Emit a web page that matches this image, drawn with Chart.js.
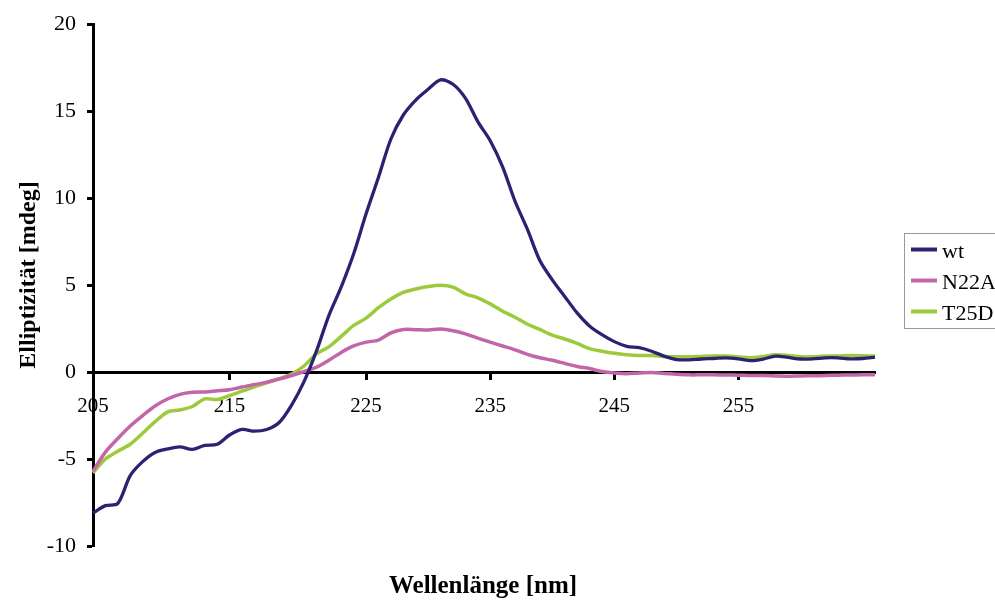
<!DOCTYPE html>
<html>
<head>
<meta charset="utf-8">
<script src="https://cdn.jsdelivr.net/npm/chart.js@4/dist/chart.umd.min.js"></script>
<style>
  html, body { margin: 0; padding: 0; background: #ffffff; }
  #wrap { width: 995px; height: 601px; position: relative; }
</style>
</head>
<body>
<div id="wrap"><canvas id="cd" width="995" height="601"></canvas></div>
<script>
// Wavelength of each recorded point (nm)
const wavelengths = [205, 206, 207, 208, 209, 210, 210.5, 211, 212, 213, 214, 215,
  216, 217, 218, 219, 220, 220.5, 221, 222, 223, 224, 225,
  226, 227, 228, 229, 230, 231, 232, 233, 234, 235,
  236, 237, 238, 239, 240, 241, 242, 243, 244, 245,
  246, 247, 248, 249, 250, 251, 252, 253, 254, 255,
  256, 257, 258, 259, 260, 261, 262, 263, 264, 265, 266];

// Labelled wavelengths on the x axis
const axisTickLabels = [205, 215, 225, 235, 245, 255];

const seriesNames = ['wt', 'N22A', 'T25D'];
const seriesColors = ['#2c2272', '#c266a9', '#9cca3a'];

// Ellipticity (mdeg)
const wtValues = [-8.1, -7.68, -7.55, -5.95, -5.15, -4.62, -4.42, -4.3, -4.45, -4.22, -4.15, -3.62,
  -3.3, -3.4, -3.3, -2.9, -1.9, -0.55, 1.2, 3.25, 4.9, 6.8, 9.1,
  11.2, 13.4, 14.78, 15.64, 16.26, 16.8, 16.55, 15.75, 14.4, 13.3,
  11.8, 9.82, 8.2, 6.41, 5.3, 4.35, 3.4, 2.65, 2.15, 1.75,
  1.48, 1.4, 1.2, 0.92, 0.72, 0.7, 0.75, 0.78, 0.82, 0.76,
  0.66, 0.75, 0.92, 0.84, 0.75, 0.76, 0.82, 0.82, 0.76, 0.78, 0.86];

const n22aValues = [-5.7, -4.6, -3.82, -3.1, -2.5, -1.95, -1.55, -1.28, -1.16, -1.14, -1.08, -1.02,
  -0.86, -0.72, -0.58, -0.4, -0.2, 0.03, 0.28, 0.68, 1.13, 1.5, 1.72,
  1.84, 2.25, 2.45, 2.44, 2.42, 2.47, 2.38, 2.2, 1.95, 1.72,
  1.5, 1.28, 1.02, 0.82, 0.68, 0.5, 0.32, 0.2, 0.03, -0.06,
  -0.1, -0.05, -0.03, -0.08, -0.12, -0.16, -0.16, -0.16, -0.17, -0.18,
  -0.2, -0.2, -0.22, -0.24, -0.22, -0.21, -0.2, -0.18, -0.17, -0.16, -0.15];

const t25dValues = [-5.8, -5.0, -4.55, -4.15, -3.52, -2.85, -2.3, -2.18, -1.98, -1.54, -1.58, -1.35,
  -1.1, -0.85, -0.62, -0.38, -0.12, 0.35, 1.05, 1.45, 2.05, 2.68, 3.1,
  3.7, 4.2, 4.58, 4.78, 4.92, 4.99, 4.88, 4.5, 4.27, 3.92,
  3.5, 3.15, 2.75, 2.45, 2.12, 1.9, 1.65, 1.35, 1.2, 1.08,
  1.0, 0.95, 0.95, 0.9, 0.88, 0.88, 0.9, 0.92, 0.92, 0.87,
  0.83, 0.9, 1.0, 0.96, 0.88, 0.88, 0.92, 0.92, 0.95, 0.94, 0.92];

const seriesValues = [wtValues, n22aValues, t25dValues];
const seriesWidths = [3.3, 3.5, 3.5];

const serif = "'Liberation Serif', 'Times New Roman', serif";

// Axis titles and the framed legend on the right
const decorations = {
  id: 'decorations',
  afterDraw(chart) {
    const c = chart.ctx;
    c.save();
    c.fillStyle = '#000';

    // x axis title
    c.font = 'bold 25px ' + serif;
    c.textAlign = 'center';
    c.textBaseline = 'alphabetic';
    c.fillText('Wellenlänge [nm]', 483, 593);

    // y axis title
    c.save();
    c.translate(35, 275);
    c.rotate(-Math.PI / 2);
    c.font = 'bold 24px ' + serif;
    c.fillText('Elliptizität [mdeg]', 0, 0);
    c.restore();

    // legend
    c.strokeStyle = '#9a9a9a';
    c.lineWidth = 1;
    c.strokeRect(904.5, 233.5, 110, 95);
    c.font = '22px ' + serif;
    c.textAlign = 'left';
    chart.data.datasets.forEach((ds, i) => {
      const base = 257.5 + i * 31;
      c.strokeStyle = ds.borderColor;
      c.lineWidth = 4;
      c.beginPath();
      c.moveTo(911, base - 8);
      c.lineTo(937, base - 8);
      c.stroke();
      c.fillStyle = '#000';
      c.fillText(ds.label, 942, base);
    });
    c.restore();
  }
};

new Chart(document.getElementById('cd'), {
  type: 'line',
  data: {
    labels: wavelengths,
    datasets: seriesNames.map((name, i) => ({
      label: name,
      data: seriesValues[i],
      borderColor: seriesColors[i],
      backgroundColor: seriesColors[i],
      borderWidth: seriesWidths[i],
      pointRadius: 0,
      tension: 0.3,
      fill: false
    }))
  },
  options: {
    responsive: false,
    devicePixelRatio: 1,
    animation: false,
    layout: { padding: { top: 17, bottom: 55, left: 0, right: 120 } },
    plugins: {
      legend: { display: false },
      tooltip: { enabled: false }
    },
    scales: {
      x: {
        type: 'category',
        position: { y: 0 },
        offset: false,
        grid: {
          display: true,
          drawOnChartArea: false,
          drawTicks: true,
          tickLength: 6,
          tickWidth: 3,
          tickColor: '#000'
        },
        border: { display: true, color: '#000', width: 3 },
        ticks: {
          autoSkip: false,
          maxRotation: 0,
          minRotation: 0,
          padding: 16,
          color: '#000',
          font: { family: serif, size: 21 }
        },
        afterBuildTicks(scale) {
          scale.ticks = scale.ticks.filter(t => axisTickLabels.includes(wavelengths[t.value]));
        }
      },
      y: {
        min: -10,
        max: 20,
        grid: {
          display: true,
          drawOnChartArea: false,
          drawTicks: true,
          tickLength: 6,
          tickWidth: 3,
          tickColor: '#000'
        },
        border: { display: true, color: '#000', width: 3 },
        ticks: {
          stepSize: 5,
          padding: 11,
          color: '#000',
          font: { family: serif, size: 22 }
        },
        afterFit(scale) { scale.width = 93; }
      }
    }
  },
  plugins: [decorations]
});
</script>
</body>
</html>
